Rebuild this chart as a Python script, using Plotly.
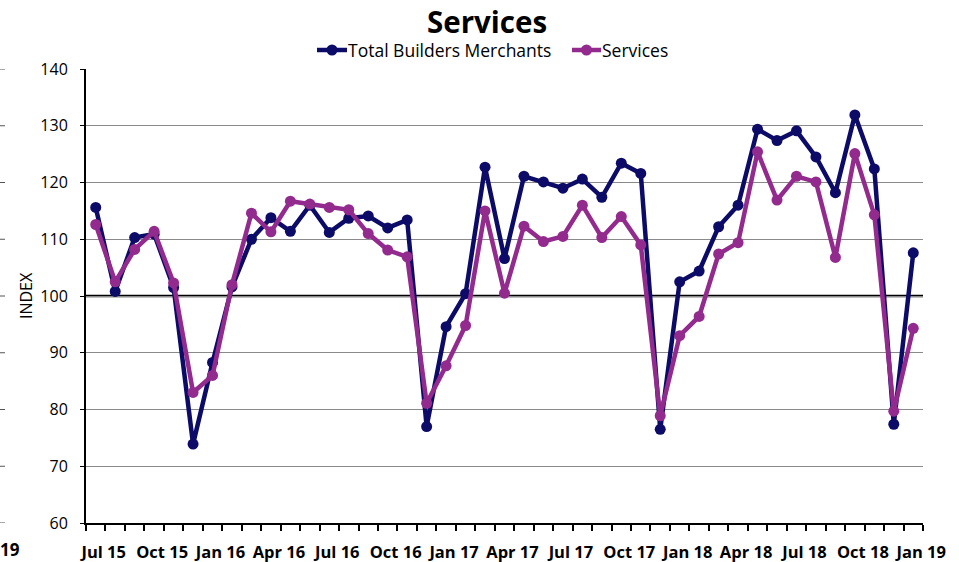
import pandas as pd
import plotly.graph_objects as go

# Monthly index, Jul 2015 - Jan 2019
months = list(pd.date_range("2015-07-01", periods=43, freq="MS").strftime("%b %y"))

total_builders_merchants = [
    115.6, 100.8, 110.3, 110.9, 101.5, 73.9,
    88.3, 101.6, 110.0, 113.8, 111.4, 116.0, 111.2, 113.7, 114.1, 112.0, 113.4, 77.0,
    94.6, 100.4, 122.7, 106.6, 121.1, 120.1, 119.0, 120.6, 117.4, 123.4, 121.6, 76.5,
    102.5, 104.4, 112.2, 116.0, 129.4, 127.4, 129.1, 124.5, 118.2, 131.9, 122.4, 77.4,
    107.6,
]
services = [
    112.6, 102.5, 108.2, 111.4, 102.3, 83.0,
    86.0, 102.0, 114.6, 111.3, 116.7, 116.2, 115.6, 115.2, 111.0, 108.1, 106.9, 81.1,
    87.7, 94.8, 115.0, 100.5, 112.3, 109.6, 110.5, 116.0, 110.3, 114.0, 109.0, 78.9,
    93.0, 96.4, 107.4, 109.4, 125.4, 116.9, 121.1, 120.1, 106.8, 125.1, 114.3, 79.7,
    94.3,
]
series_names = ["Total Builders Merchants", "Services"]

label_step = 3
y_ticks = [60, 70, 80, 90, 100, 110, 120, 130, 140]
baseline = 100

NAVY = "#0c0c68"
PURPLE = "#932a8d"
FONT = "Open Sans"

W, H = 959, 562
L, R, T, B = 86, 36, 69, 39
pw, ph = W - L - R, H - T - B


def px_x(p):
    """pixel column -> paper x"""
    return (p - L) / pw


def px_y(p):
    """pixel row -> paper y"""
    return (H - B - p) / ph


x = list(range(len(months)))

fig = go.Figure()
for name, vals, col in [(series_names[0], total_builders_merchants, NAVY),
                        (series_names[1], services, PURPLE)]:
    fig.add_trace(go.Scatter(
        x=x, y=vals, name=name, mode="lines+markers",
        line=dict(color=col, width=4.5),
        marker=dict(color=col, size=11),
        showlegend=False,
    ))

# reference line at index 100
fig.add_shape(type="line", xref="paper", x0=0, x1=1, y0=baseline, y1=baseline,
              line=dict(color="black", width=2.5), layer="between")

fig.update_layout(
    width=W, height=H,
    margin=dict(l=L, r=R, t=T, b=B, autoexpand=False),
    paper_bgcolor="white", plot_bgcolor="white",
    font=dict(family=FONT, color="black"),
    showlegend=False,
    xaxis=dict(
        range=[-0.5, len(months) - 0.5],
        automargin=False,
        tickmode="array",
        tickvals=x[::label_step],
        ticktext=months[::label_step],
        ticks="",
        ticklabelshift=8,
        ticklabelstandoff=13,
        tickfont=dict(family=FONT, size=16.5, weight="bold"),
        showgrid=False, zeroline=False,
        showline=True, linecolor="black", linewidth=2,
        minor=dict(
            tickmode="array",
            tickvals=[i - 0.5 for i in range(len(months) + 1)],
            ticks="outside", ticklen=6, tickwidth=1.5, tickcolor="black",
            showgrid=False,
        ),
    ),
    yaxis=dict(
        range=[60, 140],
        automargin=False,
        tickmode="array", tickvals=y_ticks,
        ticks="outside", ticklen=4, tickcolor="black",
        ticklabelstandoff=9,
        tickfont=dict(family=FONT, size=16),
        showgrid=True, gridcolor="#8a8a8a", gridwidth=1,
        zeroline=False,
        showline=True, linecolor="black", linewidth=2,
    ),
)

# title
fig.add_annotation(
    text="<b>Services</b>", xref="paper", yref="paper",
    x=px_x(487), y=px_y(21), xanchor="center", yanchor="middle",
    showarrow=False, font=dict(family=FONT, size=29.5, color="black"),
)

# legend: short line with a dot, label right after it
legend_items = [(series_names[0], NAVY, 317, 347), (series_names[1], PURPLE, 572, 601)]
for name, col, x0, x1 in legend_items:
    fig.add_shape(type="line", xref="paper", yref="paper",
                  x0=px_x(x0), x1=px_x(x1), y0=px_y(50), y1=px_y(50),
                  line=dict(color=col, width=4.5))
    cx = (x0 + x1) / 2
    fig.add_shape(type="circle", xref="paper", yref="paper",
                  x0=px_x(cx - 5.5), x1=px_x(cx + 5.5),
                  y0=px_y(50 + 5.5), y1=px_y(50 - 5.5),
                  fillcolor=col, line=dict(color=col, width=0))
    fig.add_annotation(
        text=name, xref="paper", yref="paper",
        x=px_x(x1 - 1), y=px_y(50), xanchor="left", yanchor="middle",
        showarrow=False, font=dict(family=FONT, size=17.5, color="black"),
    )

fig.add_annotation(
    text="INDEX", xref="paper", yref="paper", textangle=-90,
    x=px_x(26), y=px_y(296), xanchor="center", yanchor="middle",
    showarrow=False, font=dict(family=FONT, size=16, color="black"),
)
# edge of the neighbouring panel
fig.add_annotation(
    text="<b>19</b>", xref="paper", yref="paper",
    x=px_x(-2), y=px_y(549), xanchor="left", yanchor="middle",
    showarrow=False, font=dict(family=FONT, size=17, color="black"),
)
for v in y_ticks:
    fig.add_shape(type="line", xref="paper", yref="y",
                  x0=px_x(0), x1=px_x(5), y0=v, y1=v,
                  line=dict(color="#555555", width=1))

fig.write_html("out.html")
